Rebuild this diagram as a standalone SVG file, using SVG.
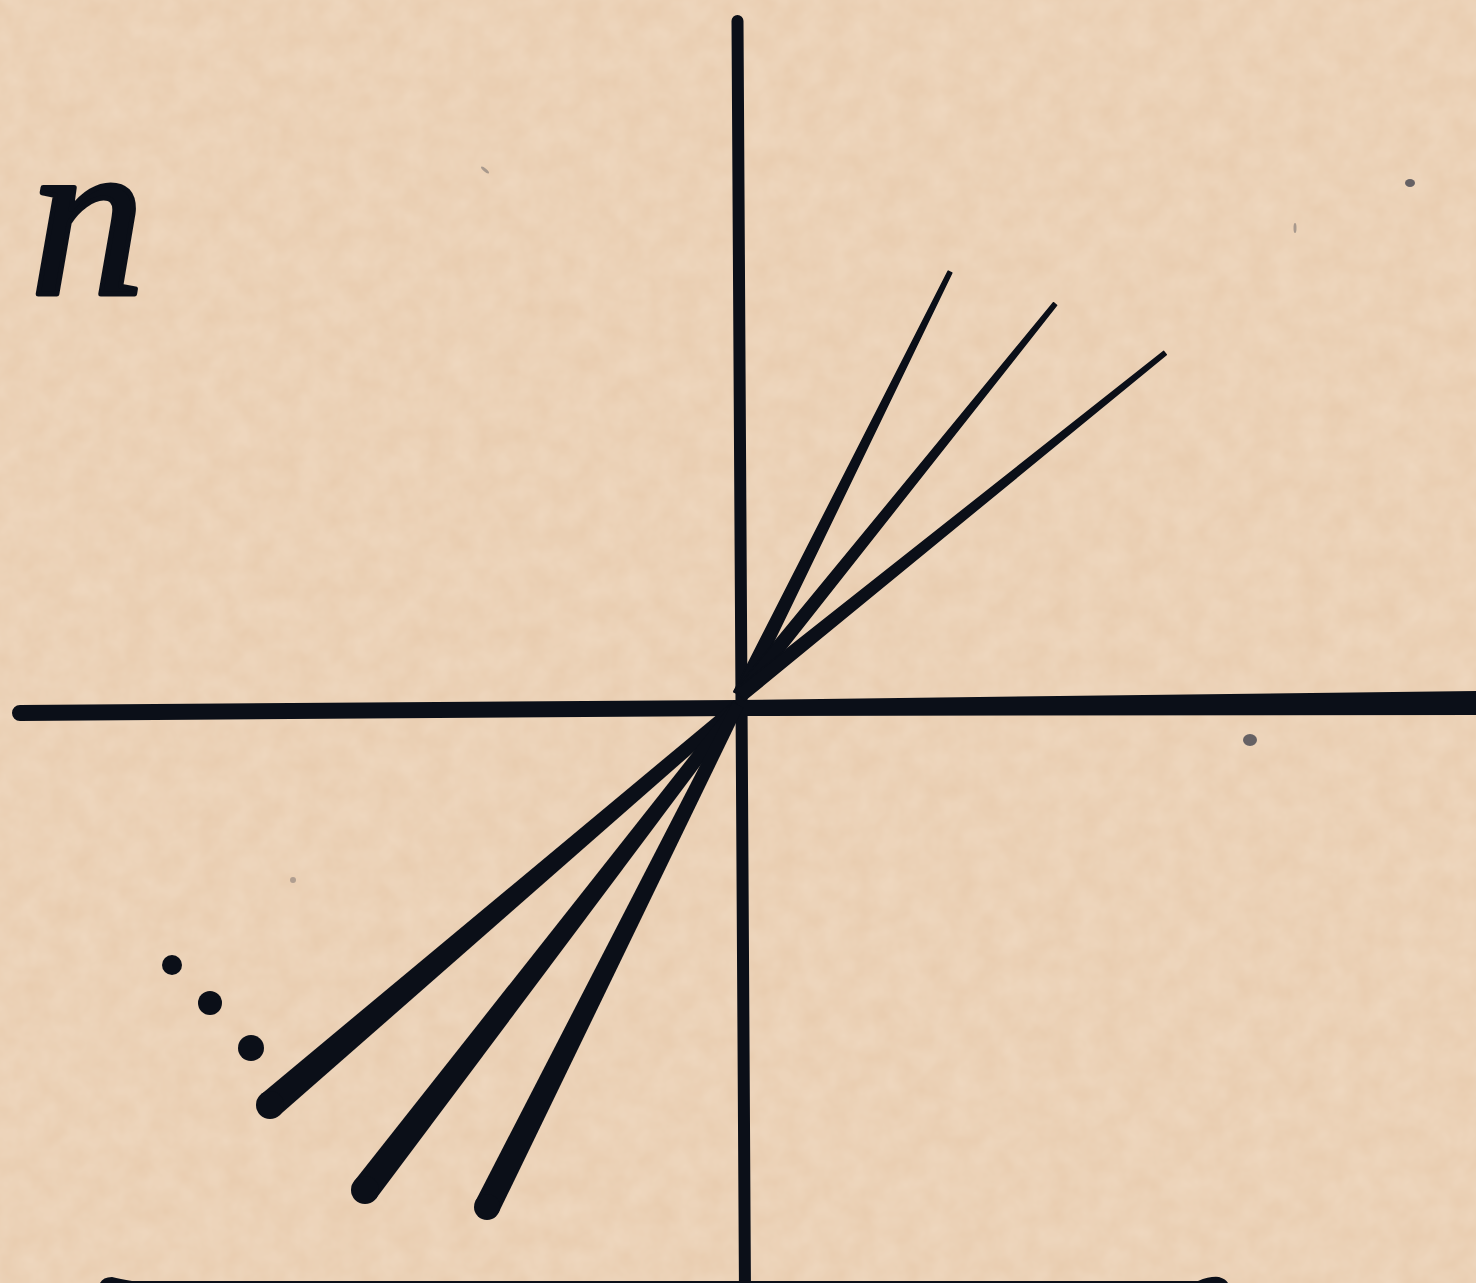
<svg xmlns="http://www.w3.org/2000/svg" width="1476" height="1283" viewBox="0 0 1476 1283">
  <defs>
    <filter id="paper" x="0" y="0" width="100%" height="100%">
      <feTurbulence type="fractalNoise" baseFrequency="0.04" numOctaves="3" seed="7" result="n"/>
      <feColorMatrix type="matrix" values="0 0 0 0 0.95  0 0 0 0 0.84  0 0 0 0 0.72  0 0 0 0.4 -0.05"/>
    </filter>
    <style>
      .ink { fill: #0b0f18; }
      .inks { fill: none; stroke: #0b0f18; stroke-linecap: round; }
      .thin { fill: #0b0f18; stroke: #0b0f18; stroke-width: 1.5; stroke-linejoin: round; }
      .speck { fill: #2c3040; }
      .label { font-family: "Liberation Serif", "Times New Roman", serif; font-style: italic; font-size: 230px; fill: #0b0f18; stroke: #0b0f18; stroke-width: 5; stroke-linejoin: round; }
    </style>
  </defs>

  <g id="background">
    <rect x="0" y="0" width="1476" height="1283" fill="#e9cdb0"/>
    <rect x="0" y="0" width="1476" height="1283" filter="url(#paper)"/>
    <ellipse class="speck" cx="1410" cy="183" rx="5" ry="4" opacity="0.7"/>
    <ellipse class="speck" cx="1250" cy="740" rx="7" ry="6" opacity="0.7"/>
    <ellipse class="speck" cx="485" cy="170" rx="5" ry="1.5" transform="rotate(40 485 170)" opacity="0.35"/>
    <ellipse class="speck" cx="1295" cy="228" rx="1.5" ry="5" opacity="0.35"/>
    <ellipse class="speck" cx="293" cy="880" rx="3" ry="3" opacity="0.3"/>
  </g>

  <g id="label-n">
    <text class="label" x="30" y="294">n</text>
  </g>

  <g id="axes">
    <path id="axis-vertical" class="inks" d="M737.5 21 L745 1295" stroke-width="12"/>
    <path id="axis-horizontal" class="ink" d="M20 705 L738 700 L1476 691 L1476 715 L738 716 L20 721 A8 8 0 0 1 20 705 Z"/>
  </g>

  <g id="lines-upper">
    <path class="thin" d="M746.3 698.1 L951.8 272.9 L948.2 271.1 L733.7 691.9 Z"/>
    <path class="thin" d="M745.5 699.4 L1056.6 305.3 L1053.4 302.7 L734.5 690.6 Z"/>
    <path class="thin" d="M744.4 700.5 L1166.3 354.6 L1163.7 351.4 L735.6 689.5 Z"/>
  </g>

  <g id="lines-lower">
    <path class="ink" d="M741.9 709.6 L279.1 1115.6 L260.9 1094.4 L734.1 700.4 Z"/>
    <circle class="ink" cx="270" cy="1105" r="14"/>
    <path class="ink" d="M742.8 708.7 L376.1 1198.5 L353.9 1181.5 L733.2 701.3 Z"/>
    <circle class="ink" cx="365" cy="1190" r="14"/>
    <path class="ink" d="M743.4 707.7 L498.6 1212.8 L475.4 1201.2 L732.6 702.3 Z"/>
    <circle class="ink" cx="487" cy="1207" r="13"/>
  </g>

  <g id="dots">
    <circle class="ink" cx="172" cy="965" r="10"/>
    <circle class="ink" cx="210" cy="1003" r="12"/>
    <circle class="ink" cx="251" cy="1048" r="13"/>
  </g>

  <g id="bottom-band">
    <path class="ink" d="M100 1283 Q103 1277 112 1277 Q120 1279 132 1281 L1198 1281 Q1210 1276 1219 1277 Q1226 1279 1228 1283 Z"/>
  </g>
</svg>
